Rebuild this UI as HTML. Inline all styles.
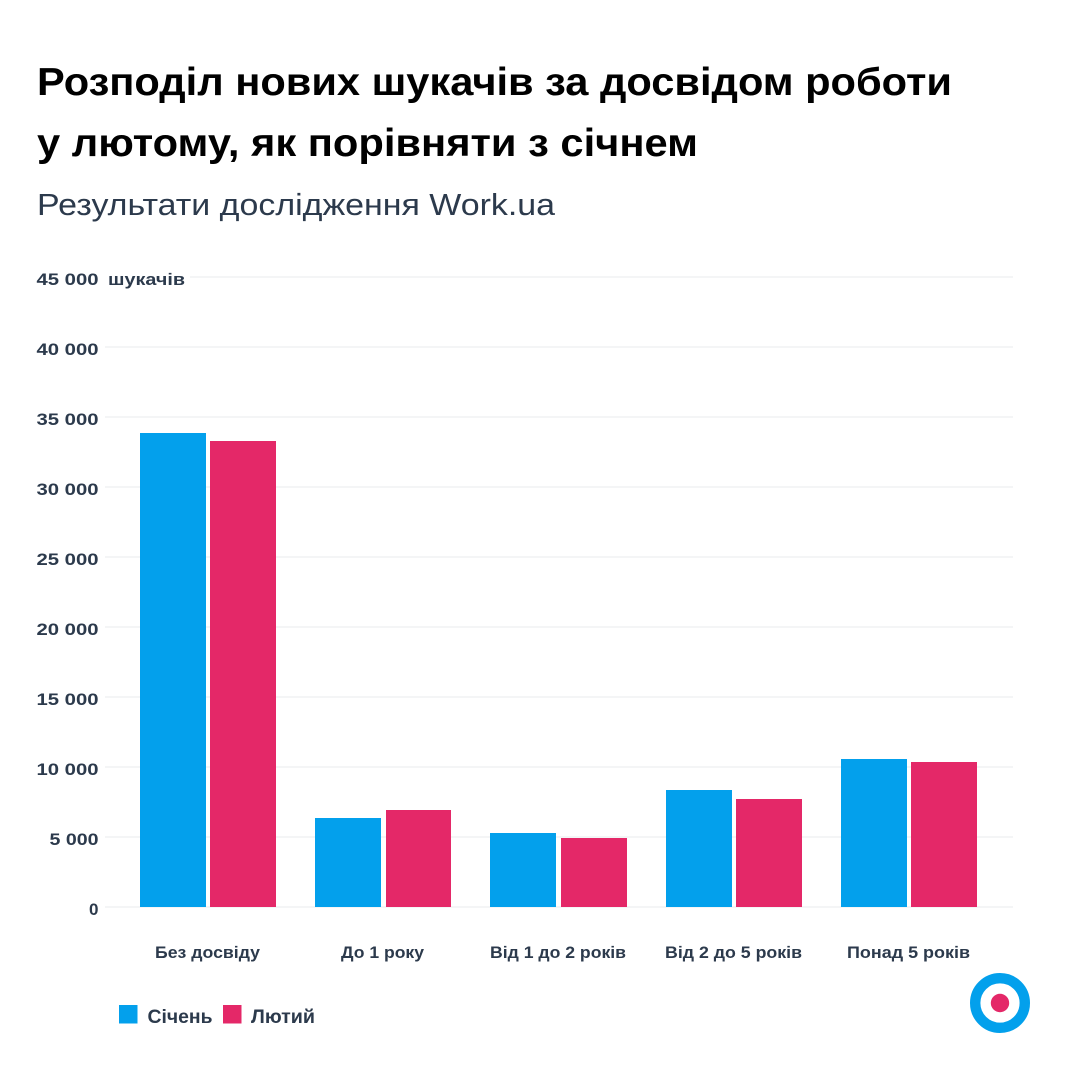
<!DOCTYPE html>
<html>
<head>
<meta charset="utf-8">
<style>
html,body{margin:0;padding:0;background:#fff;}
svg{display:block;}
</style>
</head>
<body>
<svg width="1080" height="1080" viewBox="0 0 1080 1080" xmlns="http://www.w3.org/2000/svg">
<rect width="1080" height="1080" fill="#ffffff"/>
<g font-family="Liberation Sans, DejaVu Sans, sans-serif">
  <text x="37" y="95" font-size="39" font-weight="bold" fill="#000" textLength="915" lengthAdjust="spacingAndGlyphs">Розподіл нових шукачів за досвідом роботи</text>
  <text x="37" y="156" font-size="39" font-weight="bold" fill="#000" textLength="661" lengthAdjust="spacingAndGlyphs">у лютому, як порівняти з січнем</text>
  <text x="37" y="215" font-size="31" fill="#2c3a4c" textLength="518" lengthAdjust="spacingAndGlyphs">Результати дослідження Work.ua</text>
</g>
<g stroke="#eeeff1" stroke-width="1.2">
  <line x1="190" y1="277" x2="1013" y2="277"/>
  <line x1="105" y1="347" x2="1013" y2="347"/>
  <line x1="105" y1="417" x2="1013" y2="417"/>
  <line x1="105" y1="487" x2="1013" y2="487"/>
  <line x1="105" y1="557" x2="1013" y2="557"/>
  <line x1="105" y1="627" x2="1013" y2="627"/>
  <line x1="105" y1="697" x2="1013" y2="697"/>
  <line x1="105" y1="767" x2="1013" y2="767"/>
  <line x1="105" y1="837" x2="1013" y2="837"/>
  <line x1="105" y1="907" x2="1013" y2="907"/>
</g>
<g font-family="Liberation Sans, DejaVu Sans, sans-serif" font-size="17" font-weight="bold" fill="#2c3a4c" text-anchor="end">
  <text x="98.5" y="285" textLength="62" lengthAdjust="spacingAndGlyphs">45 000</text>
  <text x="98.5" y="355" textLength="62" lengthAdjust="spacingAndGlyphs">40 000</text>
  <text x="98.5" y="425" textLength="62" lengthAdjust="spacingAndGlyphs">35 000</text>
  <text x="98.5" y="495" textLength="62" lengthAdjust="spacingAndGlyphs">30 000</text>
  <text x="98.5" y="565" textLength="62" lengthAdjust="spacingAndGlyphs">25 000</text>
  <text x="98.5" y="635" textLength="62" lengthAdjust="spacingAndGlyphs">20 000</text>
  <text x="98.5" y="705" textLength="62" lengthAdjust="spacingAndGlyphs">15 000</text>
  <text x="98.5" y="775" textLength="62" lengthAdjust="spacingAndGlyphs">10 000</text>
  <text x="98.5" y="845" textLength="49" lengthAdjust="spacingAndGlyphs">5 000</text>
  <text x="98.5" y="915">0</text>
</g>
<text x="108" y="285" font-family="Liberation Sans, DejaVu Sans, sans-serif" font-size="17" font-weight="bold" fill="#2c3a4c" textLength="77" lengthAdjust="spacingAndGlyphs">шукачів</text>
<g fill="#03a0ec">
  <rect x="140" y="433" width="66" height="474"/>
  <rect x="315" y="818" width="66" height="89"/>
  <rect x="490" y="833" width="66" height="74"/>
  <rect x="666" y="790" width="66" height="117"/>
  <rect x="841" y="759" width="66" height="148"/>
</g>
<g fill="#e42868">
  <rect x="210" y="441" width="66" height="466"/>
  <rect x="386" y="810" width="65" height="97"/>
  <rect x="561" y="838" width="66" height="69"/>
  <rect x="736" y="799" width="66" height="108"/>
  <rect x="911" y="762" width="66" height="145"/>
</g>
<g font-family="Liberation Sans, DejaVu Sans, sans-serif" font-size="17" font-weight="bold" fill="#2c3a4c">
  <text x="155" y="958" textLength="105" lengthAdjust="spacingAndGlyphs">Без досвіду</text>
  <text x="341" y="958" textLength="83" lengthAdjust="spacingAndGlyphs">До 1 року</text>
  <text x="490" y="958" textLength="136" lengthAdjust="spacingAndGlyphs">Від 1 до 2 років</text>
  <text x="665" y="958" textLength="137" lengthAdjust="spacingAndGlyphs">Від 2 до 5 років</text>
  <text x="847" y="958" textLength="123" lengthAdjust="spacingAndGlyphs">Понад 5 років</text>
</g>
<rect x="119" y="1005" width="18.5" height="18.5" fill="#03a0ec"/>
<rect x="223" y="1005" width="18.5" height="18.5" fill="#e42868"/>
<g font-family="Liberation Sans, DejaVu Sans, sans-serif" font-size="19" font-weight="bold" fill="#2c3a4c">
  <text x="147.5" y="1023" textLength="65" lengthAdjust="spacingAndGlyphs">Січень</text>
  <text x="251" y="1023" textLength="64" lengthAdjust="spacingAndGlyphs">Лютий</text>
</g>
<circle cx="1000" cy="1003" r="24.8" fill="none" stroke="#03a0ec" stroke-width="10.4"/>
<circle cx="1000" cy="1003" r="9.2" fill="#e42868"/>
</svg>
</body>
</html>
